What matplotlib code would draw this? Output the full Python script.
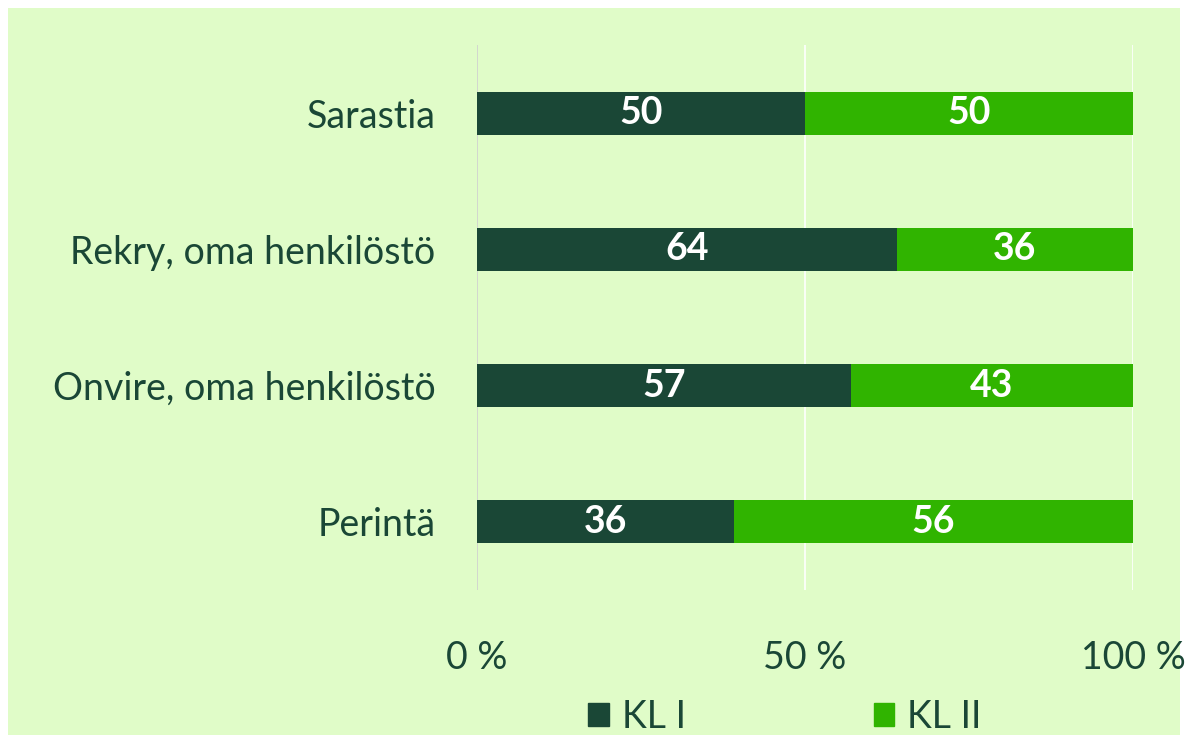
import matplotlib
import numpy as np

matplotlib.use("Agg")
import matplotlib.pyplot as plt  # noqa: E402
from matplotlib.patches import Rectangle  # noqa: E402

categories = ["Perintä", "Onvire, oma henkilöstö", "Rekry, oma henkilöstö", "Sarastia"]
kl1 = [36, 57, 64, 50]
kl2 = [56, 43, 36, 50]
series_names = ["KL I", "KL II"]
xticks = [0, 50, 100]
xtick_labels = ["0 %", "50 %", "100 %"]

DARK, LIGHT = "#1A4736", "#30B400"
BG, TXT = "#E0FCC8", "#1A4736"
FS = 27

plt.rcParams["font.family"] = ["Lato", "DejaVu Sans"]

fig = plt.figure(figsize=(11.89, 7.43), dpi=100, facecolor="white")
fig.patches.append(Rectangle((8 / 1189, 8 / 743), 1172 / 1189, 727 / 743,
                             transform=fig.transFigure, facecolor=BG,
                             edgecolor="none", zorder=-10))
ax = fig.add_axes([477 / 1189, 1 - 590 / 743, 656 / 1189, 545 / 743])
ax.set_facecolor("none")

a = np.array(kl1, float)
b = np.array(kl2, float)
tot = a + b
pa, pb = a / tot * 100, b / tot * 100
y = np.arange(len(categories))

ax.barh(y, pa, height=0.315, color=DARK, zorder=3)
ax.barh(y, pb, left=pa, height=0.315, color=LIGHT, zorder=3)
for yi, p1, p2, v1, v2 in zip(y, pa, pb, a, b):
    ax.text(p1 / 2, yi, f"{v1:.0f}", ha="center", va="center", color="white",
            fontsize=FS, fontweight="bold", zorder=4)
    ax.text(p1 + p2 / 2, yi, f"{v2:.0f}", ha="center", va="center", color="white",
            fontsize=FS, fontweight="bold", zorder=4)

ax.set_xlim(0, 100)
ax.set_ylim(-0.5, len(categories) - 0.5)
ax.set_yticks(y)
ax.set_yticklabels(categories, fontsize=FS, color=TXT)
ax.set_xticks(xticks)
ax.set_xticklabels(xtick_labels, fontsize=FS, color=TXT)
ax.tick_params(length=0)
ax.tick_params(axis="y", pad=30)
ax.tick_params(axis="x", pad=36)
for s in ax.spines.values():
    s.set_visible(False)
ax.axvline(0, color="#D0D0D0", lw=1.2, zorder=2)
for xv in xticks[1:]:
    ax.axvline(xv, color="white", lw=1.2, zorder=2)

handles = [Rectangle((0, 0), 1, 1, color=DARK), Rectangle((0, 0), 1, 1, color=LIGHT)]
fig.legend(handles, series_names, loc="center", bbox_to_anchor=(785 / 1189, 1 - 717 / 743),
           ncol=2, frameon=False, fontsize=FS, handlelength=0.55, handleheight=0.55,
           columnspacing=5.0, handletextpad=0.35, labelcolor=TXT)

fig.savefig("out.png", dpi=100, facecolor="white")
